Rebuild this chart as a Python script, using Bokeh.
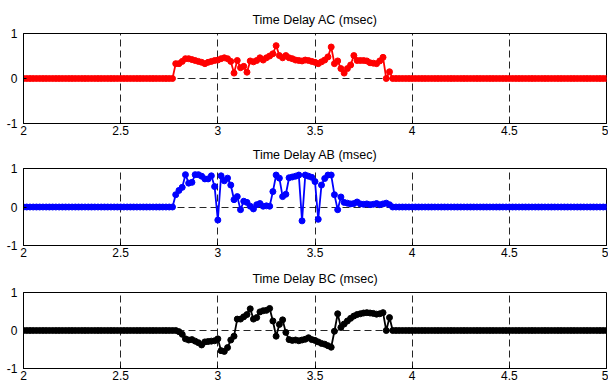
from bokeh.plotting import figure
from bokeh.layouts import column
from bokeh.models import Range1d, FixedTicker
from bokeh.embed import file_html
from bokeh.resources import INLINE

# sample times: 2 s to 5 s, one sample every 1/60 s (181 samples)
T_START = 2.0
T_STEP = 1.0 / 60.0
N_SAMPLES = 181
time = [round(T_START + i * T_STEP, 5) for i in range(N_SAMPLES)]

# values (samples 47..115 are the active part, the rest are 0)
ac_active = [0.33, 0.33, 0.38, 0.44, 0.44, 0.42, 0.40, 0.38, 0.36, 0.33,
             0.36, 0.38, 0.40, 0.41, 0.44, 0.46, 0.44, 0.38, 0.12, 0.40,
             0.24, 0.27, 0.14, 0.39, 0.37, 0.40, 0.46, 0.41, 0.46, 0.50,
             0.55, 0.73, 0.51, 0.46, 0.51, 0.46, 0.44, 0.41, 0.40, 0.39,
             0.41, 0.40, 0.38, 0.36, 0.33, 0.37, 0.41, 0.48, 0.70, 0.33,
             0.39, 0.22, 0.12, 0.22, 0.30, 0.51, 0.40, 0.40, 0.40, 0.39,
             0.35, 0.34, 0.33, 0.39, 0.47, 0.0, 0.15, 0.0, 0.0]
ab_active = [0.32, 0.43, 0.51, 0.84, 0.62, 0.64, 0.84, 0.84, 0.80, 0.73,
             0.73, 0.81, 0.53, -0.34, 0.81, 0.68, 0.75, 0.57, 0.19, 0.27,
             -0.07, 0.15, 0.12, 0.02, -0.05, 0.06, 0.09, 0.02, 0.03, 0.02,
             0.40, 0.83, 0.75, 0.27, 0.33, 0.76, 0.78, 0.80, 0.83, -0.36,
             0.83, 0.80, 0.77, 0.66, -0.32, 0.57, 0.74, 0.83, 0.83, 0.32,
             -0.07, 0.26, 0.12, 0.10, 0.08, 0.09, 0.13, 0.08, 0.07, 0.08,
             0.06, 0.07, 0.09, 0.06, 0.08, 0.10, 0.06, 0.0, 0.0]
bc_active = [0.0, -0.03, -0.10, -0.22, -0.25, -0.24, -0.28, -0.32, -0.38, -0.30,
             -0.29, -0.28, -0.27, -0.22, -0.53, -0.55, -0.45, -0.25, -0.15, 0.30,
             0.30, 0.36, 0.42, 0.57, 0.30, 0.34, 0.49, 0.52, 0.53, 0.58,
             0.25, -0.15, 0.16, 0.28, -0.05, -0.24, -0.26, -0.25, -0.27, -0.25,
             -0.23, -0.19, -0.24, -0.26, -0.30, -0.34, -0.36, -0.40, -0.44, -0.02,
             0.44, 0.08, 0.17, 0.25, 0.32, 0.38, 0.42, 0.44, 0.46, 0.47,
             0.46, 0.45, 0.43, 0.44, 0.47, 0.0, 0.34, 0.0, 0.0]
zeros_before = [0.0] * 47
zeros_after = [0.0] * 65

delay_ac = zeros_before + ac_active + zeros_after
delay_ab = zeros_before + ab_active + zeros_after
delay_bc = zeros_before + bc_active + zeros_after

titles = ["Time Delay AC (msec)", "Time Delay AB (msec)", "Time Delay BC (msec)"]
colors = ["#ff0000", "#0000ff", "#000000"]

x_ticks = [2, 2.5, 3, 3.5, 4, 4.5, 5]
x_tick_labels = ["2", "2.5", "3", "3.5", "4", "4.5", "5"]
x_grid = [2.5, 3, 3.5, 4, 4.5]
y_ticks = [-1, 0, 1]
y_tick_labels = ["-1", "0", "1"]

FONT = "Liberation Sans"


def make_panel(title, values, color, height, top, bottom):
    p = figure(width=608, height=height,
               x_range=Range1d(2, 5), y_range=Range1d(-1, 1),
               output_backend="svg", toolbar_location=None,
               min_border_left=23, min_border_right=2,
               min_border_top=top, min_border_bottom=bottom,
               background_fill_color="white", border_fill_color="white")
    p.title.text = title
    p.title.align = "center"
    p.title.text_font = FONT
    p.title.text_font_size = "12.5px"
    p.title.text_font_style = "normal"
    p.title.text_color = "black"
    p.title.standoff = 14

    p.outline_line_color = "black"
    p.outline_line_width = 1
    p.outline_line_alpha = 1

    for ax in (p.xaxis[0], p.yaxis[0]):
        ax.axis_line_color = "black"
        ax.major_tick_in = 3
        ax.major_tick_out = 0
        ax.minor_tick_line_color = None
        ax.major_tick_line_color = "black"
        ax.major_label_text_font = FONT
        ax.major_label_text_font_size = "12px"
        ax.major_label_text_color = "black"

    p.xaxis.ticker = FixedTicker(ticks=x_ticks)
    p.xaxis.major_label_overrides = dict(zip(x_ticks, x_tick_labels))
    p.xaxis.major_label_standoff = 2
    p.yaxis.ticker = FixedTicker(ticks=y_ticks)
    p.yaxis.major_label_overrides = dict(zip(y_ticks, y_tick_labels))
    p.yaxis.major_label_standoff = 6

    p.xgrid.ticker = FixedTicker(ticks=x_grid)
    p.ygrid.ticker = FixedTicker(ticks=[0])
    for g in (p.xgrid[0], p.ygrid[0]):
        g.grid_line_color = "black"
        g.grid_line_alpha = 0.85
        g.grid_line_width = 1
        g.grid_line_dash = "7 4"

    p.line(time, values, line_color=color, line_width=1.8)
    p.scatter(time, values, size=6, fill_color=color, line_color=color)
    return p


p1 = make_panel(titles[0], delay_ac, colors[0], 138, 33, 15)
p2 = make_panel(titles[1], delay_ab, colors[1], 124, 29, 17)
p3 = make_panel(titles[2], delay_bc, colors[2], 120, 27, 14)

layout = column(p1, p2, p3, spacing=0)

open("out.html", "w").write(file_html(layout, INLINE))
